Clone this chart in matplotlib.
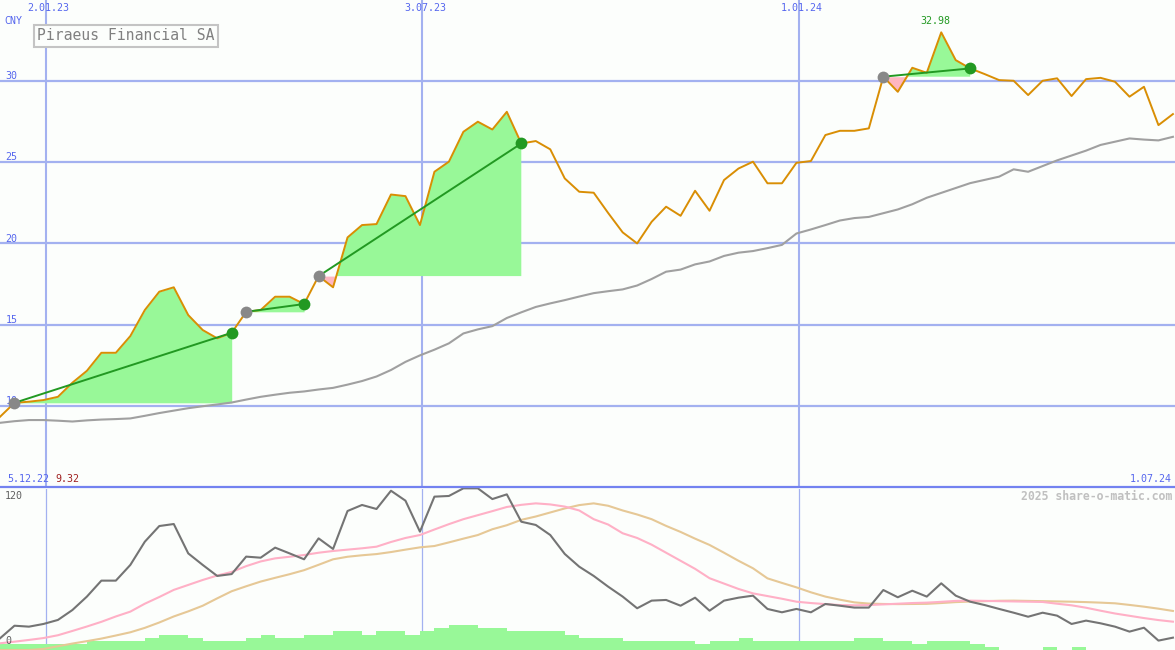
import matplotlib
matplotlib.use('Agg')
import matplotlib.pyplot as plt
import matplotlib.dates as mdates
from matplotlib.lines import Line2D
import numpy as np
import pandas as pd

# ---------------- data ----------------
dates = pd.date_range('2022-12-11', periods=82, freq='7D')
price = [9.32, 10.18, 10.25, 10.35, 10.55, 11.42, 12.15, 13.26, 13.26, 14.29,
         15.89, 17.02, 17.29, 15.58, 14.66, 14.15, 14.49, 15.78, 15.89, 16.71,
         16.71, 16.26, 17.98, 17.29, 20.36, 21.12, 21.18, 23.00, 22.90, 21.12,
         24.40, 25.02, 26.86, 27.48, 27.00, 28.09, 26.14, 26.29, 25.78, 23.99,
         23.17, 23.11, 21.86, 20.67, 19.99, 21.32, 22.25, 21.69, 23.23, 22.00,
         23.89, 24.60, 25.02, 23.69, 23.69, 24.95, 25.06, 26.66, 26.92, 26.92,
         27.07, 30.25, 29.32, 30.80, 30.49, 32.98, 31.27, 30.76, 30.41, 30.04,
         30.00, 29.12, 30.00, 30.15, 29.06, 30.10, 30.18, 29.94, 29.02, 29.63,
         27.27, 27.95]
moving_avg = [8.95, 9.05, 9.12, 9.12, 9.08, 9.03, 9.10, 9.15, 9.18, 9.22,
              9.38, 9.55, 9.70, 9.85, 9.97, 10.08, 10.20, 10.38, 10.55, 10.68,
              10.80, 10.88, 11.00, 11.10, 11.30, 11.52, 11.80, 12.20, 12.70, 13.10,
              13.45, 13.84, 14.45, 14.70, 14.90, 15.40, 15.75, 16.08, 16.30, 16.50,
              16.72, 16.93, 17.05, 17.16, 17.40, 17.80, 18.25, 18.38, 18.70, 18.88,
              19.22, 19.42, 19.52, 19.70, 19.90, 20.60, 20.85, 21.12, 21.40, 21.55,
              21.62, 21.85, 22.08, 22.40, 22.80, 23.10, 23.40, 23.70, 23.90, 24.10,
              24.55, 24.40, 24.75, 25.10, 25.40, 25.70, 26.05, 26.25, 26.45, 26.38,
              26.33, 26.55]
oscillator = [8.7, 18.1, 17.4, 19.4, 22.4, 29.8, 39.8, 51.7, 51.7, 63.4,
              80.7, 92.4, 93.9, 72.0, 63.4, 55.2, 56.6, 69.6, 68.8, 76.3,
              72.0, 67.6, 83.2, 75.3, 103.6, 108.1, 105.1, 118.7, 111.3, 88.2,
              114.3, 114.8, 120.5, 120.5, 112.5, 116.0, 95.6, 93.2, 85.7, 71.6,
              62.1, 55.2, 47.2, 39.8, 31.1, 36.8, 37.3, 33.0, 39.0, 29.3,
              36.8, 39.0, 40.5, 30.6, 28.1, 30.6, 28.1, 34.3, 33.0, 31.6,
              31.6, 44.7, 39.3, 44.2, 39.8, 49.7, 40.5, 36.0, 33.5, 30.6,
              27.8, 24.8, 27.8, 25.6, 19.4, 21.9, 19.9, 17.4, 13.7, 16.6,
              7.0, 9.2]
osc_avg_fast = [5.0, 6.2, 7.5, 8.9, 11.0, 14.2, 17.5, 21.0, 25.0, 28.6,
                34.5, 39.5, 44.8, 48.5, 52.2, 55.5, 58.2, 62.5, 66.0, 68.3,
                69.5, 70.8, 72.5, 73.8, 74.8, 75.8, 77.0, 80.5, 83.5, 85.7,
                89.8, 93.8, 97.5, 100.5, 103.5, 106.6, 108.2, 109.3, 108.5, 106.9,
                104.0, 97.5, 93.5, 87.0, 83.5, 78.5, 72.5, 66.5, 60.5, 53.5,
                49.5, 45.5, 42.2, 40.2, 38.2, 36.0, 35.0, 34.2, 33.5, 33.3,
                33.5, 34.0, 34.5, 35.0, 35.3, 35.9, 36.6, 36.8, 36.6, 36.4,
                36.2, 36.0, 35.8, 34.5, 33.3, 31.5, 29.3, 27.2, 25.5, 23.8,
                22.3, 21.1]
osc_avg_slow = [0.0, 0.0, 0.0, 0.8, 2.8, 4.8, 6.6, 8.5, 10.8, 13.2,
                16.5, 20.5, 25.0, 28.8, 33.0, 38.5, 43.8, 47.5, 51.0, 53.8,
                56.5, 59.5, 63.5, 67.6, 69.5, 70.6, 71.5, 73.0, 74.8, 76.5,
                77.5, 80.2, 83.0, 85.7, 90.0, 93.0, 97.0, 99.5, 102.5, 105.5,
                108.0, 109.3, 107.5, 104.0, 101.0, 97.5, 92.5, 88.0, 83.0, 78.3,
                72.5, 66.5, 60.9, 53.4, 50.0, 46.7, 43.0, 39.8, 37.5, 35.5,
                34.6, 34.3, 34.2, 34.3, 34.4, 35.0, 35.7, 36.1, 36.4, 36.7,
                36.8, 36.6, 36.4, 36.2, 36.0, 35.7, 35.3, 34.8, 33.6, 32.3,
                30.8, 29.1]
volume = [4.2, 4.2, 4.2, 4.2, 4.2, 4.2, 6.7, 6.7, 6.7, 6.7,
          8.7, 11.2, 11.2, 8.7, 6.7, 6.7, 6.7, 8.7, 11.2, 8.7,
          8.7, 11.2, 11.2, 14.2, 14.2, 11.2, 14.2, 14.2, 11.2, 14.2,
          16.1, 18.6, 18.6, 16.1, 16.1, 14.2, 14.2, 14.2, 14.2, 11.2,
          8.7, 8.7, 8.7, 6.7, 6.7, 6.7, 6.7, 6.7, 4.2, 6.7,
          6.7, 8.7, 6.7, 6.7, 6.7, 6.7, 6.7, 6.7, 6.7, 8.7,
          8.7, 6.7, 6.7, 4.5, 6.7, 6.7, 6.7, 4.5, 2.2, 0.0,
          0.0, 0.0, 2.2, 0.0, 2.2, 0.0, 0.0, 0.0, 0.0, 0.0,
          0.0, 0.0]
entry_idx = [1, 17, 22, 61]
exit_idx = [16, 21, 36, 67]
grid_dates = ['2023-01-02', '2023-07-03', '2024-01-01']
grid_labels = ['2.01.23', '3.07.23', '1.01.24']
price_ticks = [10, 15, 20, 25, 30]
currency = 'CNY'
title = 'Piraeus Financial SA'
start_label = '5.12.22'
start_price_label = '9.32'
end_label = '1.07.24'
end_date = '2024-07-01'
osc_ticks = [0, 120]
credit = '2025 share-o-matic.com'

# ---------------- styling ----------------
BG = '#fcfefc'
GRID = '#a3b1f0'
BLUE = '#5566ee'
ORANGE = '#d98e04'
MAGRAY = '#a0a0a0'
FILLG = '#98f898'
FILLP = '#ffb6c1'
DGREEN = '#229922'
MONO = 'DejaVu Sans Mono'

W, H = 1175, 650
fig = plt.figure(figsize=(W / 100, H / 100), dpi=100, facecolor=BG)
sep_y = 487
ax = fig.add_axes([0, (H - sep_y) / H, 1, sep_y / H])
ax2 = fig.add_axes([0, 0, 1, 161 / H])
for a in (ax, ax2):
    a.set_facecolor(BG)
    for s in a.spines.values():
        s.set_visible(False)
    a.set_xticks([])
    a.set_yticks([])

xd = mdates.date2num(dates)
x0 = xd[0]
x1 = mdates.date2num(pd.Timestamp(end_date))
price_a = np.array(price)
gx = [mdates.date2num(pd.Timestamp(d)) for d in grid_dates]

# top panel
ax.set_xlim(x0, x1)
ax.set_ylim(5.0, 34.97)
for t in price_ticks:
    ax.axhline(t, color=GRID, lw=1.6, zorder=1)
    ax.annotate(str(t), (x0, t), xytext=(4, 1.2), textcoords='offset points',
                ha='left', va='baseline', color=BLUE, fontsize=7.2, family=MONO, zorder=2)
for g, lab in zip(gx, grid_labels):
    ax.axvline(g, color=GRID, lw=1.5, zorder=1)
    ax.text(g + 1.5, 0.9836, lab, transform=ax.get_xaxis_transform(), ha='center', va='center',
            color=BLUE, fontsize=7.2, family=MONO)
ax.text(4 / W, 1 - 21 / sep_y, currency, transform=ax.transAxes, ha='left', va='center',
        color=BLUE, fontsize=7.2, family=MONO)

for s, e in zip(entry_idx, exit_idx):
    xs = xd[s:e + 1]
    ys = price_a[s:e + 1]
    base = price_a[s]
    ax.fill_between(xs, ys, base, where=ys >= base, interpolate=True, color=FILLG, lw=0, zorder=2)
    ax.fill_between(xs, ys, base, where=ys < base, interpolate=True, color=FILLP, lw=0, zorder=2)

ax.plot(xd, moving_avg, color=MAGRAY, lw=1.5, zorder=3)
ax.plot(xd, price, color=ORANGE, lw=1.4, zorder=4)
for s, e in zip(entry_idx, exit_idx):
    ax.plot([xd[s], xd[e]], [price[s], price[e]], color=DGREEN, lw=1.4, zorder=5)
    ax.plot(xd[s], price[s], 'o', ms=8.5, color='#888888', mec='none', zorder=6)
    ax.plot(xd[e], price[e], 'o', ms=8.5, color=DGREEN, mec='none', zorder=6)

imax = int(np.argmax(price_a))
ax.annotate(f'{price_a[imax]:.2f}', (xd[imax], price_a[imax]), xytext=(-4, 8),
            textcoords='offset points', ha='center', va='center', color=DGREEN,
            fontsize=7.2, family=MONO, zorder=7)

ax.text(37 / W, 1 - 36 / sep_y, title, transform=ax.transAxes, ha='left', va='center',
        color='#808080', fontsize=10.6, family=MONO, zorder=8,
        bbox=dict(boxstyle='square,pad=0.22', fc=BG, ec='#c4c4c4', lw=1.5))

# separator
fig.add_artist(Line2D([0, 1], [(H - sep_y) / H] * 2, color='#7382f0', lw=1.6))
fig.text(7 / W, 1 - 479 / H, start_label, ha='left', va='center', color=BLUE,
         fontsize=7.2, family=MONO)
fig.text(55 / W, 1 - 479 / H, start_price_label, ha='left', va='center', color='#a02020',
         fontsize=7.2, family=MONO)
fig.text(1172 / W, 1 - 479 / H, end_label, ha='right', va='center', color=BLUE,
         fontsize=7.2, family=MONO)

# bottom panel
ax2.set_xlim(x0, x1)
ax2.set_ylim(osc_ticks[0], osc_ticks[1])
for g in gx:
    ax2.axvline(g, color=GRID, lw=0.9, zorder=1)
ax2.bar(xd, volume, width=7, align='edge', color=FILLG, lw=0, zorder=2)
ax2.plot(xd, osc_avg_slow, color='#e6c896', lw=1.5, zorder=3, clip_on=False)
ax2.plot(xd, osc_avg_fast, color='#ffb0c6', lw=1.5, zorder=3, clip_on=False)
ax2.plot(xd, oscillator, color='#747474', lw=1.5, zorder=4, clip_on=False)
fig.text(5 / W, 1 - 496 / H, str(osc_ticks[1]), ha='left', va='center', color='#606060',
         fontsize=7.2, family=MONO)
fig.text(5 / W, 1 - 641.5 / H, str(osc_ticks[0]), ha='left', va='center', color='#606060',
         fontsize=7.2, family=MONO)
fig.text(1172 / W, 1 - 496 / H, credit, ha='right', va='center', color='#c0c0c0',
         fontsize=8.3, family=MONO, weight='bold')

fig.savefig('out.png', dpi=100, facecolor=BG)
